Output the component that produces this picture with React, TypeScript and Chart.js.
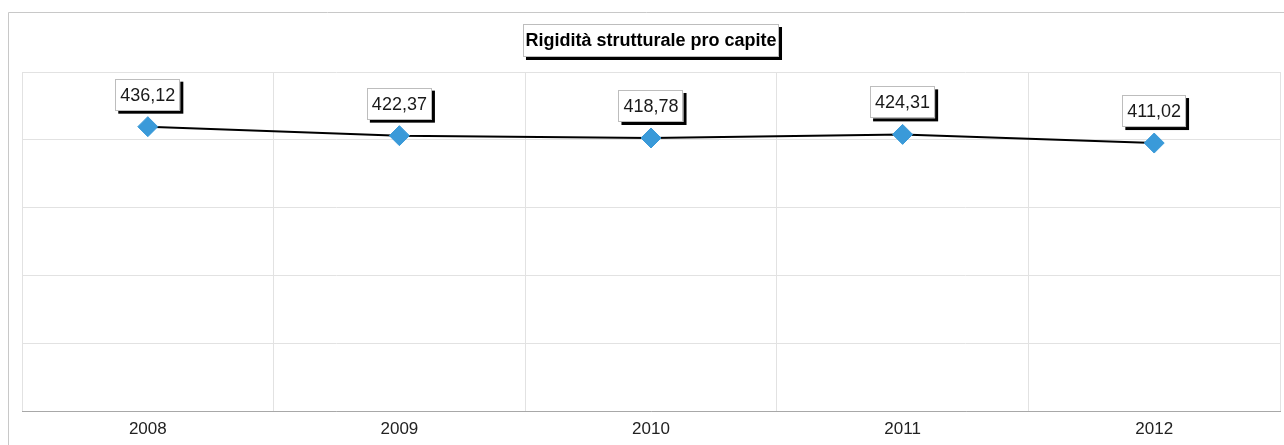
import React, { useEffect, useRef } from 'react';
import { Chart, registerables } from 'chart.js';

Chart.register(...registerables);

const TITLE = 'Rigidità strutturale pro capite';
const years: string[] = ['2008', '2009', '2010', '2011', '2012'];
const values: number[] = [436.12, 422.37, 418.78, 424.31, 411.02];
const Y_MIN = 0;
const Y_MAX = 520;
const Y_STEP = 104;

const fmt = (v: number) => v.toFixed(2).replace('.', ',');

function shadowBox(ctx: CanvasRenderingContext2D, x: number, y: number, w: number, h: number) {
  ctx.fillStyle = '#000';
  ctx.fillRect(x + 3, y + 3, w, h);
  ctx.fillStyle = '#fff';
  ctx.fillRect(x, y, w, h);
  ctx.strokeStyle = '#bdbdbd';
  ctx.lineWidth = 1;
  ctx.strokeRect(Math.round(x) + 0.5, Math.round(y) + 0.5, Math.round(w) - 1, Math.round(h) - 1);
}

const decoPlugin = {
  id: 'deco',
  beforeDraw(chart: any) {
    const ctx = chart.ctx as CanvasRenderingContext2D;
    ctx.save();
    ctx.fillStyle = '#fff';
    ctx.fillRect(0, 0, chart.width, chart.height);
    ctx.strokeStyle = '#c8c8c8';
    ctx.lineWidth = 1;
    ctx.beginPath();
    ctx.moveTo(8.5, chart.height);
    ctx.lineTo(8.5, 12.5);
    ctx.lineTo(chart.width, 12.5);
    ctx.stroke();
    ctx.restore();
  },
  afterDraw(chart: any) {
    const ctx = chart.ctx as CanvasRenderingContext2D;
    const area = chart.chartArea;
    ctx.save();
    // title box
    ctx.font = 'bold 18px Arial, "Liberation Sans", sans-serif';
    const tw = ctx.measureText(TITLE).width;
    const bw = tw + 5;
    const bh = 33;
    const cx = (area.left + area.right) / 2;
    const bx = cx - bw / 2;
    const by = 24;
    shadowBox(ctx, bx, by, bw, bh);
    ctx.fillStyle = '#000';
    ctx.textAlign = 'center';
    ctx.textBaseline = 'middle';
    ctx.fillText(TITLE, cx, by + bh / 2 + 1);

    // data labels
    const meta = chart.getDatasetMeta(0);
    ctx.font = '18px Arial, "Liberation Sans", sans-serif';
    meta.data.forEach((pt: any, i: number) => {
      const txt = fmt(values[i]);
      const w = ctx.measureText(txt).width + 10;
      const h = 32;
      const x = pt.x - w / 2;
      const y = pt.y - 16 - h;
      shadowBox(ctx, x, y, w, h);
      ctx.fillStyle = '#1a1a1a';
      ctx.textAlign = 'center';
      ctx.textBaseline = 'middle';
      ctx.fillText(txt, pt.x, y + h / 2 + 1);
    });
    ctx.restore();
  },
};

export default function App() {
  const ref = useRef<HTMLCanvasElement | null>(null);
  useEffect(() => {
    if (!ref.current) return;
    const chart = new Chart(ref.current, {
      type: 'line',
      data: {
        labels: years,
        datasets: [
          {
            data: values,
            borderColor: '#000',
            borderWidth: 2,
            pointStyle: 'rectRot',
            pointRadius: 10,
            pointBackgroundColor: '#3a9ad9',
            pointBorderColor: '#3a9ad9',
            pointBorderWidth: 1,
            tension: 0,
            fill: false,
          },
        ],
      },
      options: {
        animation: false,
        responsive: false,
        maintainAspectRatio: false,
        events: [],
        layout: { autoPadding: false, padding: { left: 22, right: 4, top: 72, bottom: 0 } },
        plugins: {
          legend: { display: false },
          tooltip: { enabled: false },
          title: { display: false },
        },
        scales: {
          x: {
            offset: true,
            grid: { color: '#e2e2e2', drawTicks: false, offset: true },
            border: { color: '#a8a8a8', width: 1 },
            ticks: {
              padding: 8,
              color: '#222',
              font: { family: 'Arial, "Liberation Sans", sans-serif', size: 17 },
            },
            afterFit: (s: any) => {
              s.height = 34;
            },
          },
          y: {
            min: Y_MIN,
            max: Y_MAX,
            ticks: { display: false, stepSize: Y_STEP },
            grid: { color: '#e2e2e2', drawTicks: false },
            border: { display: false },
            afterFit: (s: any) => {
              s.width = 0;
            },
          },
        },
      },
      plugins: [decoPlugin],
    });
    return () => chart.destroy();
  }, []);
  return (
    <div style={{ position: 'fixed', left: 0, top: 0, width: 1284, height: 445 }}>
      <canvas ref={ref} width={1284} height={445} style={{ display: 'block' }} />
    </div>
  );
}
